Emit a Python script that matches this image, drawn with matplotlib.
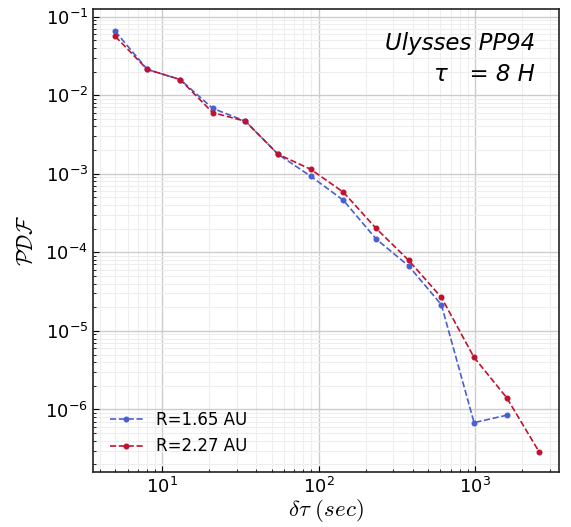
import matplotlib as mpl
mpl.use('Agg')
import matplotlib.pyplot as plt

# lag values (sec) and PDFs
lags = [5, 8, 13, 21, 34, 55, 89, 144, 233, 377, 610, 987, 1597, 2584]
pdf_165 = [0.065, 0.0213, 0.0158, 0.0068, 0.00466, 0.00177, 0.00093, 0.00046,
           0.000148, 6.7e-5, 2.15e-5, 6.8e-7, 8.45e-7]
pdf_227 = [0.056, 0.0213, 0.0158, 0.0060, 0.00466, 0.00177, 0.00114, 0.000582,
           0.000202, 7.9e-5, 2.67e-5, 4.6e-6, 1.41e-6, 2.85e-7]
labels = ['R=1.65 AU', 'R=2.27 AU']
colors = ['#4a5fd0', '#c0122e']

plt.rcParams['mathtext.fontset'] = 'cm'

fig = plt.figure(figsize=(5.71, 5.27), dpi=100)
ax = fig.add_axes([93 / 571, 1 - 472 / 527, (559 - 93) / 571, (472 - 9) / 527])

ax.plot(lags[:len(pdf_165)], pdf_165, linestyle='--', marker='o', markersize=3.3,
        color=colors[0], lw=1.2, label=labels[0])
ax.plot(lags[:len(pdf_227)], pdf_227, linestyle='--', marker='o', markersize=3.3,
        color=colors[1], lw=1.2, label=labels[1])

ax.set_xscale('log')
ax.set_yscale('log')
ax.set_xlim(3.6, 3450)
ax.set_ylim(1.6e-7, 1.25e-1)

ax.grid(which='major', color='#cccccc', lw=1.0)
ax.grid(which='minor', color='#eeeeee', lw=0.8)
ax.set_axisbelow(True)
ax.tick_params(which='both', direction='in', labelsize=13)
ax.tick_params(which='major', length=4)
ax.tick_params(which='minor', length=2.5)
for s in ax.spines.values():
    s.set_linewidth(1.2)
    s.set_color('#222222')

ax.set_xlabel(r'$\delta\tau\ (sec)$', fontsize=16.5, labelpad=0)
ax.set_ylabel(r'$\mathcal{PDF}$', fontsize=15.5, labelpad=6)

ax.text(0.948, 0.95, 'Ulysses PP94', transform=ax.transAxes, ha='right', va='top',
        fontsize=16.5, style='italic')
ax.text(0.948, 0.883, 'τ   = 8 H', transform=ax.transAxes, ha='right', va='top',
        fontsize=16.5, style='italic')

ax.legend(loc='lower left', frameon=False, fontsize=12, handlelength=2.0,
          handletextpad=0.8, borderaxespad=0.6, labelspacing=0.5)

fig.savefig('out.png', dpi=100)
print('Saved to out.png')
